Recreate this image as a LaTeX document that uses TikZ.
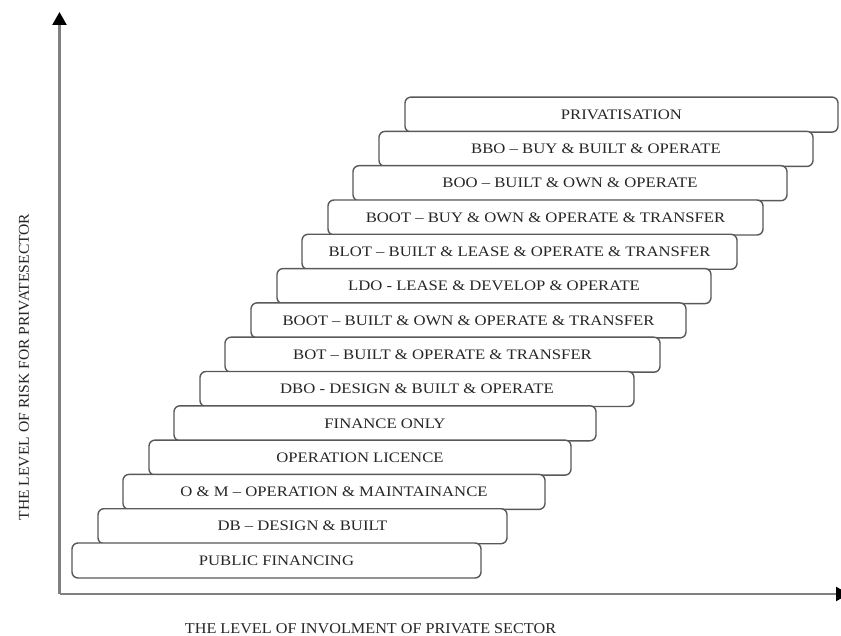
\documentclass[tikz,border=0pt]{standalone}
\usepackage{fontspec}
\setmainfont{Liberation Serif}
\usetikzlibrary{arrows.meta}
\begin{document}
\begin{tikzpicture}[x=1pt,y=-1pt,
  stepbox/.style={draw=black!65, line width=1.4pt, rounded corners=6pt, fill=white,
    minimum height=35pt, inner sep=0pt, text=black!85,
    font=\fontsize{14.5}{16}\selectfont},
  axisline/.style={draw=black!50, line width=2.4pt,
    -{Triangle[width=14pt,length=13pt,color=black]}},
  axislabel/.style={text=black!85, font=\fontsize{15}{17}\selectfont, inner sep=0pt}]
\useasboundingbox[fill=white] (0,0) rectangle (841,636);
\coordinate (O) at (59.5,594);
\coordinate (Ytop) at (59.5,12);
\coordinate (Xend) at (849,594);
\draw[axisline] (O) -- (Ytop);
\draw[axisline] (O) -- (Xend);
\foreach \i/\l/\r/\t in {
 13/405/838/PRIVATISATION,
 12/379/813/{BBO -- BUY \& BUILT \& OPERATE},
 11/353/787/{BOO -- BUILT \& OWN \& OPERATE},
 10/328/763/{BOOT -- BUY \& OWN \& OPERATE \& TRANSFER},
 9/302/737/{BLOT -- BUILT \& LEASE \& OPERATE \& TRANSFER},
 8/277/711/{LDO - LEASE \& DEVELOP \& OPERATE},
 7/251/686/{BOOT -- BUILT \& OWN \& OPERATE \& TRANSFER},
 6/225/660/{BOT -- BUILT \& OPERATE \& TRANSFER},
 5/200/634/{DBO - DESIGN \& BUILT \& OPERATE},
 4/174/596/{FINANCE ONLY},
 3/149/571/{OPERATION LICENCE},
 2/123/545/{O \& M -- OPERATION \& MAINTAINANCE},
 1/98/507/{DB -- DESIGN \& BUILT},
 0/72/481/{PUBLIC FINANCING}}{
  \pgfmathsetmacro{\cx}{(\l+\r)/2}
  \pgfmathsetmacro{\cy}{543-34.3*\i+17.5}
  \pgfmathsetmacro{\w}{\r-\l}
  \node[stepbox, minimum width=\w pt] (b\i) at (\cx,\cy) {\scalebox{1.15}[1]{\t}};
}
\node[axislabel] (xl) at (370.5,629) {\scalebox{1.08}[1]{THE LEVEL OF INVOLMENT OF PRIVATE SECTOR}};
\node[axislabel, rotate=90] (yl) at (24,367) {\scalebox{1.04}[1]{THE LEVEL OF RISK FOR PRIVATESECTOR}};
\end{tikzpicture}
\end{document}
